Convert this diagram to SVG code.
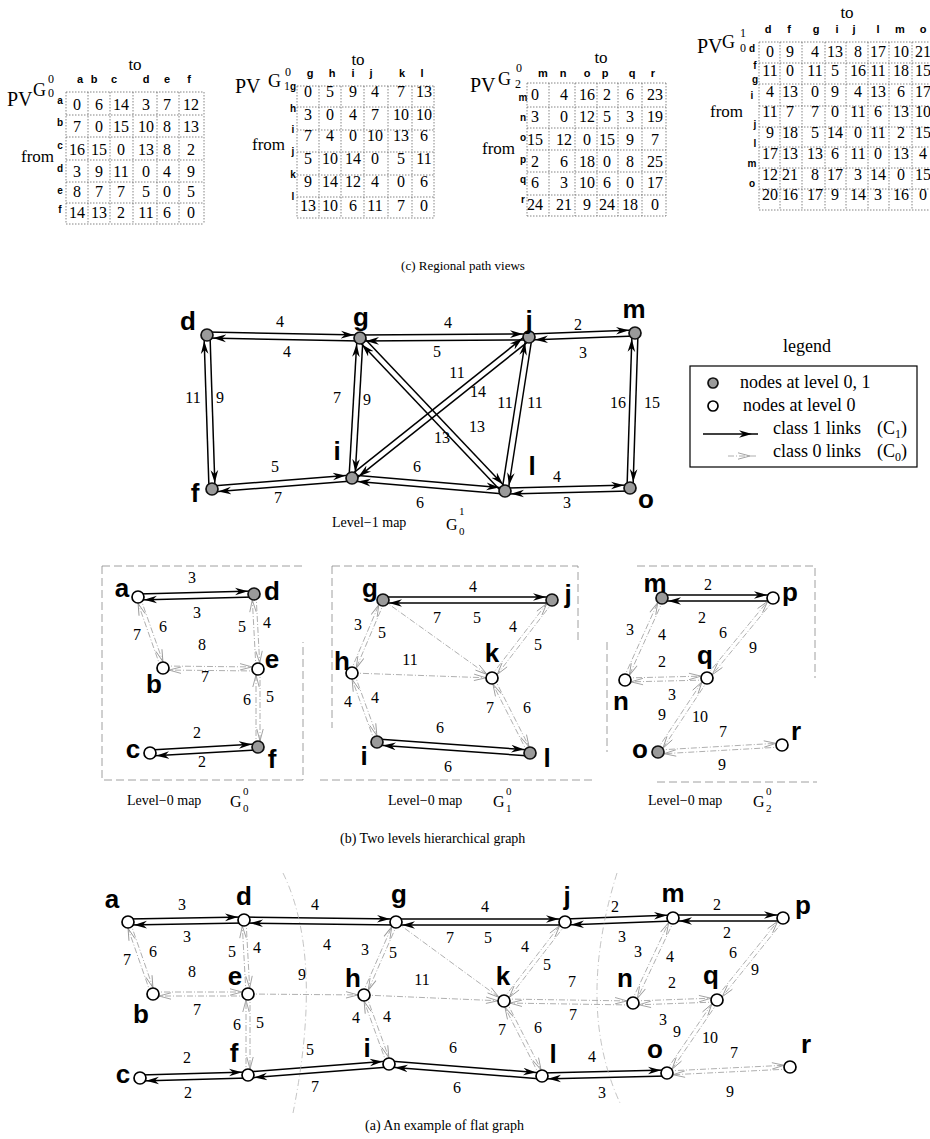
<svg xmlns="http://www.w3.org/2000/svg" width="930" height="1139" viewBox="0 0 930 1139">
<style>
.t{font-family:"Liberation Serif","Times New Roman",serif;fill:#000}
.num{font-family:"Liberation Serif","Times New Roman",serif;font-size:16px;text-anchor:middle}
.hd{font-family:"Liberation Sans",Arial,sans-serif;font-weight:bold;font-size:11px;text-anchor:middle}
.rl{font-family:"Liberation Sans",Arial,sans-serif;font-weight:bold;font-size:10px;text-anchor:middle}
.n{font-family:"Liberation Sans",Arial,sans-serif;font-weight:bold;font-size:26px;text-anchor:middle}
.el{font-family:"Liberation Serif","Times New Roman",serif;font-size:16px;text-anchor:middle}
.cap{font-family:"Liberation Serif","Times New Roman",serif;font-size:14px}
.grid{stroke:#666;stroke-width:0.8;stroke-dasharray:1.5 1.5;fill:none}
.c1{stroke:#000;stroke-width:1.5;fill:none;marker-end:url(#a1)}
.c0{stroke:#9a9a9a;stroke-width:0.8;stroke-dasharray:6 2 1 2;fill:none;marker-end:url(#a0)}
.on{fill:#fff;stroke:#000;stroke-width:1.7}
.gn{fill:#9a9a9a;stroke:#111;stroke-width:1.7}
.box{fill:none;stroke:#888;stroke-width:0.8;stroke-dasharray:8 4}
.bnd{fill:none;stroke:#aaa;stroke-width:0.7;stroke-dasharray:7 3 1 3}
</style>
<defs>
<marker id="a1" viewBox="0 0 20 10" refX="19" refY="5" markerWidth="20" markerHeight="10" orient="auto" markerUnits="userSpaceOnUse"><path d="M0,1.2 L13,5 L0,8.8 L4,5 z" fill="#000"/></marker>
<marker id="a0" viewBox="0 0 20 10" refX="19" refY="5" markerWidth="20" markerHeight="10" orient="auto" markerUnits="userSpaceOnUse"><path d="M1,1.8 L13,5 L1,8.2" fill="none" stroke="#9a9a9a" stroke-width="0.9"/></marker>
</defs>
<rect width="930" height="1139" fill="#fff"/>

<!-- (c) Regional path views -->
<g id="table-g00">
<text class="t" x="7" y="106" font-size="20">PV</text>
<text class="t" x="33" y="96" font-size="18">G</text>
<text class="t" x="48" y="83" font-size="12">0</text>
<text class="t" x="48" y="97" font-size="12">0</text>
<text class="t" x="135" y="70" font-size="17" text-anchor="middle">to</text>
<text class="t" x="21" y="162" font-size="17">from</text>
<text class="hd" y="83"><tspan x="80">a</tspan><tspan x="94">b</tspan><tspan x="114">c</tspan><tspan x="146">d</tspan><tspan x="167">e</tspan><tspan x="189">f</tspan></text>
<text class="rl" x="60"><tspan x="60" y="104">a</tspan><tspan x="60" y="126">b</tspan><tspan x="60" y="149">c</tspan><tspan x="60" y="172">d</tspan><tspan x="60" y="194">e</tspan><tspan x="60" y="213">f</tspan></text>
<path class="grid" d="M66,92H204M66,115H204M66,137H204M66,160H204M66,182H204M66,203H204M66,224H204M66,92V224M88,92V224M110,92V224M133,92V224M157,92V224M179,92V224M204,92V224"/>
<text class="num" y="110"><tspan x="77">0</tspan><tspan x="99">6</tspan><tspan x="121">14</tspan><tspan x="146">3</tspan><tspan x="167">7</tspan><tspan x="191">12</tspan></text>
<text class="num" y="132"><tspan x="77">7</tspan><tspan x="99">0</tspan><tspan x="121">15</tspan><tspan x="146">10</tspan><tspan x="167">8</tspan><tspan x="191">13</tspan></text>
<text class="num" y="155"><tspan x="77">16</tspan><tspan x="99">15</tspan><tspan x="121">0</tspan><tspan x="146">13</tspan><tspan x="167">8</tspan><tspan x="191">2</tspan></text>
<text class="num" y="177"><tspan x="77">3</tspan><tspan x="99">9</tspan><tspan x="121">11</tspan><tspan x="146">0</tspan><tspan x="167">4</tspan><tspan x="191">9</tspan></text>
<text class="num" y="197"><tspan x="77">8</tspan><tspan x="99">7</tspan><tspan x="121">7</tspan><tspan x="146">5</tspan><tspan x="167">0</tspan><tspan x="191">5</tspan></text>
<text class="num" y="218"><tspan x="77">14</tspan><tspan x="99">13</tspan><tspan x="121">2</tspan><tspan x="146">11</tspan><tspan x="167">6</tspan><tspan x="191">0</tspan></text>
</g>

<g id="table-g10">
<text class="t" x="235" y="93" font-size="20">PV</text>
<text class="t" x="268" y="87" font-size="18">G</text>
<text class="t" x="285" y="76" font-size="12">0</text>
<text class="t" x="284" y="90" font-size="12">1</text>
<text class="t" x="358" y="65" font-size="17" text-anchor="middle">to</text>
<text class="t" x="252" y="150" font-size="17">from</text>
<text class="hd" y="77"><tspan x="310">g</tspan><tspan x="332">h</tspan><tspan x="353">i</tspan><tspan x="371">j</tspan><tspan x="402">k</tspan><tspan x="422">l</tspan></text>
<text class="rl"><tspan x="293" y="90">g</tspan><tspan x="293" y="112">h</tspan><tspan x="293" y="133">i</tspan><tspan x="293" y="155">j</tspan><tspan x="293" y="178">k</tspan><tspan x="293" y="200">l</tspan></text>
<path class="grid" d="M297,86H434M297,107H434M297,130H434M297,152H434M297,175H434M297,197H434M297,218H434M297,86V218M319,86V218M341,86V218M364,86V218M388,86V218M412,86V218M434,86V218"/>
<text class="num" y="97"><tspan x="308">0</tspan><tspan x="330">5</tspan><tspan x="353">9</tspan><tspan x="375">4</tspan><tspan x="401">7</tspan><tspan x="424">13</tspan></text>
<text class="num" y="120"><tspan x="308">3</tspan><tspan x="330">0</tspan><tspan x="353">4</tspan><tspan x="375">7</tspan><tspan x="401">10</tspan><tspan x="424">10</tspan></text>
<text class="num" y="141"><tspan x="308">7</tspan><tspan x="330">4</tspan><tspan x="353">0</tspan><tspan x="375">10</tspan><tspan x="401">13</tspan><tspan x="424">6</tspan></text>
<text class="num" y="164"><tspan x="308">5</tspan><tspan x="330">10</tspan><tspan x="353">14</tspan><tspan x="375">0</tspan><tspan x="401">5</tspan><tspan x="424">11</tspan></text>
<text class="num" y="187"><tspan x="308">9</tspan><tspan x="330">14</tspan><tspan x="353">12</tspan><tspan x="375">4</tspan><tspan x="401">0</tspan><tspan x="424">6</tspan></text>
<text class="num" y="211"><tspan x="308">13</tspan><tspan x="330">10</tspan><tspan x="353">6</tspan><tspan x="375">11</tspan><tspan x="401">7</tspan><tspan x="424">0</tspan></text>
</g>

<g id="table-g20">
<text class="t" x="470" y="92" font-size="20">PV</text>
<text class="t" x="498" y="85" font-size="18">G</text>
<text class="t" x="516" y="72" font-size="12">0</text>
<text class="t" x="515" y="88" font-size="12">2</text>
<text class="t" x="601" y="63" font-size="17" text-anchor="middle">to</text>
<text class="t" x="482" y="154" font-size="17">from</text>
<text class="hd" y="77"><tspan x="543">m</tspan><tspan x="563">n</tspan><tspan x="587">o</tspan><tspan x="605">p</tspan><tspan x="632">q</tspan><tspan x="653">r</tspan></text>
<text class="rl"><tspan x="523" y="101">m</tspan><tspan x="523" y="121">n</tspan><tspan x="523" y="141">o</tspan><tspan x="523" y="163">p</tspan><tspan x="523" y="183">q</tspan><tspan x="523" y="203">r</tspan></text>
<path class="grid" d="M527,83H666M527,107H666M527,128H666M527,150H666M527,172H666M527,195H666M527,216H666M527,83V216M549,83V216M575,83V216M597,83V216M618,83V216M642,83V216M666,83V216"/>
<text class="num" y="100"><tspan x="535">0</tspan><tspan x="564">4</tspan><tspan x="587">16</tspan><tspan x="607">2</tspan><tspan x="630">6</tspan><tspan x="655">23</tspan></text>
<text class="num" y="122"><tspan x="535">3</tspan><tspan x="564">0</tspan><tspan x="587">12</tspan><tspan x="607">5</tspan><tspan x="630">3</tspan><tspan x="655">19</tspan></text>
<text class="num" y="145"><tspan x="535">15</tspan><tspan x="564">12</tspan><tspan x="587">0</tspan><tspan x="607">15</tspan><tspan x="630">9</tspan><tspan x="655">7</tspan></text>
<text class="num" y="167"><tspan x="535">2</tspan><tspan x="564">6</tspan><tspan x="587">18</tspan><tspan x="607">0</tspan><tspan x="630">8</tspan><tspan x="655">25</tspan></text>
<text class="num" y="188"><tspan x="535">6</tspan><tspan x="564">3</tspan><tspan x="587">10</tspan><tspan x="607">6</tspan><tspan x="630">0</tspan><tspan x="655">17</tspan></text>
<text class="num" y="210"><tspan x="535">24</tspan><tspan x="564">21</tspan><tspan x="587">9</tspan><tspan x="607">24</tspan><tspan x="630">18</tspan><tspan x="655">0</tspan></text>
</g>

<g id="table-g01">
<text class="t" x="697" y="53" font-size="20">PV</text>
<text class="t" x="722" y="48" font-size="18">G</text>
<text class="t" x="740" y="37" font-size="12">1</text>
<text class="t" x="740" y="52" font-size="12">0</text>
<text class="t" x="847" y="18" font-size="17" text-anchor="middle">to</text>
<text class="t" x="710" y="117" font-size="17">from</text>
<text class="hd" y="33"><tspan x="768">d</tspan><tspan x="789">f</tspan><tspan x="816">g</tspan><tspan x="837">i</tspan><tspan x="854">j</tspan><tspan x="878">l</tspan><tspan x="900">m</tspan><tspan x="923">o</tspan></text>
<text class="rl"><tspan x="752" y="52">d</tspan><tspan x="755" y="69">f</tspan><tspan x="755" y="83">g</tspan><tspan x="752" y="99">i</tspan><tspan x="755" y="128">j</tspan><tspan x="755" y="147">l</tspan><tspan x="752" y="167">m</tspan><tspan x="752" y="187">o</tspan></text>
<path class="grid" d="M759,42H930M759,63H930M759,84H930M759,106H930M759,127H930M759,147H930M759,168H930M759,189H930M759,210H930M759,42V210M780,42V210M802,42V210M825,42V210M846,42V210M868,42V210M889,42V210M912,42V210"/>
<text class="num" y="57"><tspan x="770">0</tspan><tspan x="790">9</tspan><tspan x="815">4</tspan><tspan x="835">13</tspan><tspan x="858">8</tspan><tspan x="878">17</tspan><tspan x="901">10</tspan><tspan x="923">21</tspan></text>
<text class="num" y="76"><tspan x="770">11</tspan><tspan x="790">0</tspan><tspan x="815">11</tspan><tspan x="835">5</tspan><tspan x="858">16</tspan><tspan x="878">11</tspan><tspan x="901">18</tspan><tspan x="923">15</tspan></text>
<text class="num" y="97"><tspan x="770">4</tspan><tspan x="790">13</tspan><tspan x="815">0</tspan><tspan x="835">9</tspan><tspan x="858">4</tspan><tspan x="878">13</tspan><tspan x="901">6</tspan><tspan x="923">17</tspan></text>
<text class="num" y="117"><tspan x="770">11</tspan><tspan x="790">7</tspan><tspan x="815">7</tspan><tspan x="835">0</tspan><tspan x="858">11</tspan><tspan x="878">6</tspan><tspan x="901">13</tspan><tspan x="923">10</tspan></text>
<text class="num" y="138"><tspan x="770">9</tspan><tspan x="790">18</tspan><tspan x="815">5</tspan><tspan x="835">14</tspan><tspan x="858">0</tspan><tspan x="878">11</tspan><tspan x="901">2</tspan><tspan x="923">15</tspan></text>
<text class="num" y="159"><tspan x="770">17</tspan><tspan x="790">13</tspan><tspan x="815">13</tspan><tspan x="835">6</tspan><tspan x="858">11</tspan><tspan x="878">0</tspan><tspan x="901">13</tspan><tspan x="923">4</tspan></text>
<text class="num" y="180"><tspan x="770">12</tspan><tspan x="790">21</tspan><tspan x="815">8</tspan><tspan x="835">17</tspan><tspan x="858">3</tspan><tspan x="878">14</tspan><tspan x="901">0</tspan><tspan x="923">15</tspan></text>
<text class="num" y="200"><tspan x="770">20</tspan><tspan x="790">16</tspan><tspan x="815">17</tspan><tspan x="835">9</tspan><tspan x="858">14</tspan><tspan x="878">3</tspan><tspan x="901">16</tspan><tspan x="923">0</tspan></text>
</g>

<text class="t" x="463" y="270" font-size="13" text-anchor="middle">(c) Regional path views</text>

<!-- connectors -->
<g id="connectors">
<g id="level1-links">
<line class="c1" x1="207" y1="332" x2="360" y2="335"/>
<line class="c1" x1="360" y1="341" x2="207" y2="338"/>
<line class="c1" x1="360" y1="335" x2="529" y2="334"/>
<line class="c1" x1="529" y1="340" x2="360" y2="341"/>
<line class="c1" x1="529" y1="334" x2="635" y2="330"/>
<line class="c1" x1="635" y1="336" x2="529" y2="340"/>
<line class="c1" x1="210" y1="335" x2="215" y2="489"/>
<line class="c1" x1="209" y1="489" x2="204" y2="335"/>
<line class="c1" x1="363" y1="338" x2="355" y2="478"/>
<line class="c1" x1="349" y1="478" x2="357" y2="338"/>
<line class="c1" x1="530.9" y1="339.3" x2="353.9" y2="480.3"/>
<line class="c1" x1="350.1" y1="475.6" x2="527.1" y2="334.6"/>
<line class="c1" x1="362.2" y1="335.9" x2="507.2" y2="488.9"/>
<line class="c1" x1="502.8" y1="493.1" x2="357.8" y2="340.1"/>
<line class="c1" x1="532" y1="337.5" x2="508" y2="491.5"/>
<line class="c1" x1="502" y1="490.5" x2="526" y2="336.5"/>
<line class="c1" x1="638" y1="333" x2="633" y2="488"/>
<line class="c1" x1="627" y1="488" x2="632" y2="333"/>
<line class="c1" x1="211.8" y1="486" x2="351.8" y2="475"/>
<line class="c1" x1="352.2" y1="481" x2="212.2" y2="492"/>
<line class="c1" x1="352.3" y1="475" x2="505.3" y2="488"/>
<line class="c1" x1="504.7" y1="494" x2="351.7" y2="481"/>
<line class="c1" x1="505" y1="488" x2="630" y2="485"/>
<line class="c1" x1="630" y1="491" x2="505" y2="494"/>
</g>
<g id="level0-links">
<line class="c1" x1="138" y1="594" x2="254" y2="591"/>
<line class="c1" x1="254" y1="597" x2="138" y2="600"/>
<line class="c0" x1="139.9" y1="596.3" x2="164.9" y2="667.3"/>
<line class="c0" x1="161.1" y1="668.7" x2="136.1" y2="597.7"/>
<line class="c0" x1="163" y1="666" x2="258" y2="667"/>
<line class="c0" x1="258" y1="671" x2="163" y2="670"/>
<line class="c0" x1="256" y1="594" x2="260" y2="669"/>
<line class="c0" x1="256" y1="669" x2="252" y2="594"/>
<line class="c0" x1="260" y1="669" x2="260" y2="747"/>
<line class="c0" x1="256" y1="747" x2="256" y2="669"/>
<line class="c1" x1="149.8" y1="750" x2="257.8" y2="744"/>
<line class="c1" x1="258.2" y1="750" x2="150.2" y2="756"/>

<line class="c1" x1="383" y1="597" x2="552" y2="597"/>
<line class="c1" x1="552" y1="603" x2="383" y2="603"/>
<line class="c0" x1="384.8" y1="600.8" x2="353.8" y2="673.8"/>
<line class="c0" x1="350.2" y1="672.2" x2="381.2" y2="599.2"/>
<line class="c0" x1="383" y1="600" x2="492" y2="678"/>
<line class="c0" x1="553.6" y1="601.2" x2="493.6" y2="679.2"/>
<line class="c0" x1="490.4" y1="676.8" x2="550.4" y2="598.8"/>
<line class="c0" x1="352" y1="673" x2="492" y2="678"/>
<line class="c0" x1="353.9" y1="672.3" x2="378.9" y2="741.3"/>
<line class="c0" x1="375.1" y1="742.7" x2="350.1" y2="673.7"/>
<line class="c0" x1="493.8" y1="677.1" x2="531.8" y2="752.1"/>
<line class="c0" x1="528.2" y1="753.9" x2="490.2" y2="678.9"/>
<line class="c1" x1="377.2" y1="739" x2="530.2" y2="750"/>
<line class="c1" x1="529.8" y1="756" x2="376.8" y2="745"/>

<line class="c1" x1="662" y1="595" x2="773" y2="595"/>
<line class="c1" x1="773" y1="601" x2="662" y2="601"/>
<line class="c0" x1="663.8" y1="598.8" x2="626.8" y2="680.8"/>
<line class="c0" x1="623.2" y1="679.2" x2="660.2" y2="597.2"/>
<line class="c0" x1="774.5" y1="599.3" x2="708.5" y2="679.3"/>
<line class="c0" x1="705.5" y1="676.7" x2="771.5" y2="596.7"/>
<line class="c0" x1="625" y1="678" x2="707" y2="676"/>
<line class="c0" x1="707" y1="680" x2="625" y2="682"/>
<line class="c0" x1="708.7" y1="679.1" x2="659.7" y2="753.1"/>
<line class="c0" x1="656.3" y1="750.9" x2="705.3" y2="676.9"/>
<line class="c0" x1="657.9" y1="750" x2="781.9" y2="743"/>
<line class="c0" x1="782.1" y1="747" x2="658.1" y2="754"/>
</g>
<g id="flat-links">
<line class="c1" x1="128" y1="919" x2="244" y2="917"/>
<line class="c1" x1="244" y1="923" x2="128" y2="925"/>
<line class="c1" x1="244" y1="917" x2="396" y2="919"/>
<line class="c1" x1="396" y1="925" x2="244" y2="923"/>
<line class="c1" x1="396" y1="919" x2="565" y2="919"/>
<line class="c1" x1="565" y1="925" x2="396" y2="925"/>
<line class="c1" x1="565" y1="919" x2="673" y2="915"/>
<line class="c1" x1="673" y1="921" x2="565" y2="925"/>
<line class="c1" x1="673" y1="915" x2="783" y2="915"/>
<line class="c1" x1="783" y1="921" x2="673" y2="921"/>
<line class="c1" x1="140" y1="1075" x2="248" y2="1072"/>
<line class="c1" x1="248" y1="1078" x2="140" y2="1081"/>
<line class="c1" x1="247.8" y1="1072" x2="388.8" y2="1061"/>
<line class="c1" x1="389.2" y1="1067" x2="248.2" y2="1078"/>
<line class="c1" x1="389.2" y1="1061" x2="542.2" y2="1073"/>
<line class="c1" x1="541.8" y1="1079" x2="388.8" y2="1067"/>
<line class="c1" x1="542" y1="1073" x2="667" y2="1070"/>
<line class="c1" x1="667" y1="1076" x2="542" y2="1079"/>
<line class="c0" x1="129.9" y1="921.3" x2="154.9" y2="993.3"/>
<line class="c0" x1="151.1" y1="994.7" x2="126.1" y2="922.7"/>
<line class="c0" x1="153" y1="992" x2="248" y2="992"/>
<line class="c0" x1="248" y1="996" x2="153" y2="996"/>
<line class="c0" x1="246" y1="920" x2="250" y2="994"/>
<line class="c0" x1="246" y1="994" x2="242" y2="920"/>
<line class="c0" x1="248" y1="994" x2="364" y2="995"/>
<line class="c0" x1="250" y1="994" x2="250" y2="1075"/>
<line class="c0" x1="246" y1="1075" x2="246" y2="994"/>
<line class="c0" x1="397.8" y1="922.8" x2="365.8" y2="995.8"/>
<line class="c0" x1="362.2" y1="994.2" x2="394.2" y2="921.2"/>
<line class="c0" x1="396" y1="922" x2="504" y2="1001"/>
<line class="c0" x1="364" y1="995" x2="504" y2="1001"/>
<line class="c0" x1="365.9" y1="994.3" x2="390.9" y2="1063.3"/>
<line class="c0" x1="387.1" y1="1064.7" x2="362.1" y2="995.7"/>
<line class="c0" x1="566.6" y1="923.2" x2="505.6" y2="1002.2"/>
<line class="c0" x1="502.4" y1="999.8" x2="563.4" y2="920.8"/>
<line class="c0" x1="505.8" y1="1000.1" x2="543.8" y2="1075.1"/>
<line class="c0" x1="540.2" y1="1076.9" x2="502.2" y2="1001.9"/>
<line class="c0" x1="504" y1="999" x2="633" y2="1001"/>
<line class="c0" x1="633" y1="1005" x2="504" y2="1003"/>
<line class="c0" x1="674.8" y1="918.9" x2="634.8" y2="1003.9"/>
<line class="c0" x1="631.2" y1="1002.1" x2="671.2" y2="917.1"/>
<line class="c0" x1="633" y1="1001" x2="717" y2="998"/>
<line class="c0" x1="717" y1="1002" x2="633" y2="1005"/>
<line class="c0" x1="784.6" y1="919.3" x2="718.6" y2="1001.3"/>
<line class="c0" x1="715.4" y1="998.7" x2="781.4" y2="916.7"/>
<line class="c0" x1="718.7" y1="1001.1" x2="668.7" y2="1074.1"/>
<line class="c0" x1="665.3" y1="1071.9" x2="715.3" y2="998.9"/>
<line class="c0" x1="667" y1="1071" x2="790" y2="1065"/>
<line class="c0" x1="790" y1="1069" x2="667" y2="1075"/>
</g>
</g>

<!-- edge labels -->
<g id="edge-labels" class="el">
<text x="280" y="327">4</text><text x="287" y="357">4</text><text x="448" y="328">4</text><text x="437" y="357">5</text>
<text x="578" y="330">2</text><text x="583" y="358">3</text>
<text x="193" y="403">11</text><text x="220" y="403">9</text><text x="337" y="403">7</text><text x="367" y="405">9</text>
<text x="457" y="378">11</text><text x="478" y="397">14</text><text x="442" y="443">13</text><text x="477" y="432">13</text>
<text x="505" y="408">11</text><text x="535" y="408">11</text><text x="618" y="408">16</text><text x="652" y="408">15</text>
<text x="275" y="472">5</text><text x="278" y="503">7</text><text x="417" y="472">6</text><text x="420" y="508">6</text>
<text x="557" y="482">4</text><text x="567" y="508">3</text>

<text x="192" y="583">3</text><text x="197" y="618">3</text><text x="137" y="640">7</text><text x="163" y="632">6</text>
<text x="202" y="650">8</text><text x="205" y="682">7</text><text x="242" y="632">5</text><text x="267" y="628">4</text>
<text x="247" y="705">6</text><text x="270" y="702">5</text><text x="197" y="738">2</text><text x="202" y="767">2</text>

<text x="473" y="592">4</text><text x="477" y="623">5</text><text x="437" y="623">7</text><text x="513" y="632">4</text>
<text x="538" y="650">5</text><text x="358" y="630">3</text><text x="382" y="638">5</text><text x="410" y="665">11</text>
<text x="348" y="707">4</text><text x="375" y="703">4</text><text x="490" y="713">7</text><text x="527" y="713">6</text>
<text x="440" y="733">6</text><text x="448" y="772">6</text>

<text x="708" y="590">2</text><text x="702" y="623">2</text><text x="630" y="635">3</text><text x="662" y="640">4</text>
<text x="723" y="638">6</text><text x="753" y="653">9</text><text x="662" y="667">2</text><text x="672" y="700">3</text>
<text x="662" y="720">9</text><text x="700" y="722">10</text><text x="723" y="737">7</text><text x="722" y="770">9</text>

<text x="182" y="910">3</text><text x="187" y="942">3</text><text x="315" y="910">4</text><text x="327" y="950">4</text>
<text x="485" y="912">4</text><text x="488" y="943">5</text><text x="450" y="943">7</text>
<text x="127" y="965">7</text><text x="153" y="957">6</text><text x="232" y="957">5</text><text x="257" y="953">4</text>
<text x="192" y="977">8</text><text x="197" y="1015">7</text><text x="302" y="980">9</text>
<text x="365" y="955">3</text><text x="393" y="958">5</text><text x="422" y="985">11</text>
<text x="237" y="1030">6</text><text x="260" y="1028">5</text><text x="356" y="1023">4</text><text x="387" y="1022">4</text>
<text x="310" y="1055">5</text><text x="315" y="1092">7</text><text x="187" y="1063">2</text><text x="188" y="1098">2</text>
<text x="453" y="1053">6</text><text x="457" y="1093">6</text><text x="502" y="1035">7</text><text x="538" y="1033">6</text>
<text x="525" y="952">4</text><text x="547" y="970">5</text><text x="615" y="912">2</text><text x="622" y="942">3</text>
<text x="638" y="957">3</text><text x="670" y="962">4</text><text x="717" y="910">2</text><text x="727" y="938">2</text>
<text x="733" y="958">6</text><text x="755" y="975">9</text><text x="572" y="987">7</text><text x="573" y="1020">7</text>
<text x="672" y="988">2</text><text x="663" y="1025">3</text><text x="677" y="1037">9</text><text x="710" y="1043">10</text>
<text x="592" y="1062">4</text><text x="602" y="1098">3</text><text x="734" y="1058">7</text><text x="730" y="1097">9</text>
</g>

<!-- Level-1 map nodes -->
<g id="l1-d"><circle class="gn" cx="207" cy="335" r="6"/><text class="n" x="188" y="330">d</text></g>
<g id="l1-g"><circle class="gn" cx="360" cy="338" r="6"/><text class="n" x="361" y="326">g</text></g>
<g id="l1-j"><circle class="gn" cx="529" cy="337" r="6"/><text class="n" x="529" y="329">j</text></g>
<g id="l1-m"><circle class="gn" cx="635" cy="333" r="6"/><text class="n" x="634" y="318">m</text></g>
<g id="l1-f"><circle class="gn" cx="212" cy="489" r="6"/><text class="n" x="195" y="502">f</text></g>
<g id="l1-i"><circle class="gn" cx="352" cy="478" r="6"/><text class="n" x="337" y="460">i</text></g>
<g id="l1-l"><circle class="gn" cx="505" cy="491" r="6"/><text class="n" x="532" y="475">l</text></g>
<g id="l1-o"><circle class="gn" cx="630" cy="488" r="6"/><text class="n" x="646" y="508">o</text></g>
<g id="l1-caption">
<text class="cap" x="332" y="527">Level−1 map</text>
<text class="t" x="446" y="530" font-size="16">G</text>
<text class="t" x="459" y="515" font-size="11">1</text>
<text class="t" x="459" y="535" font-size="11">0</text>
</g>

<!-- legend -->
<g id="legend">
<text class="t" x="807" y="352" font-size="18" text-anchor="middle">legend</text>
<rect x="690" y="366" width="227" height="101" fill="none" stroke="#000" stroke-width="1.2"/>
<circle class="gn" cx="713" cy="383" r="5"/>
<text class="t" x="740" y="388" font-size="18">nodes at level 0, 1</text>
<circle class="on" cx="713" cy="406" r="5"/>
<text class="t" x="743" y="411" font-size="18">nodes at level 0</text>
<line class="c1" x1="703" y1="434" x2="758" y2="434"/>
<text class="t" x="773" y="434" font-size="18">class 1 links</text>
<text class="t" x="877" y="434" font-size="18">(C<tspan font-size="12" dy="4">1</tspan><tspan dy="-4">)</tspan></text>
<line class="c0" x1="728" y1="456" x2="756" y2="456"/>
<text class="t" x="773" y="457" font-size="18">class 0 links</text>
<text class="t" x="877" y="457" font-size="18">(C<tspan font-size="12" dy="4">0</tspan><tspan dy="-4">)</tspan></text>
</g>

<!-- Level-0 boxes -->
<g id="level0-frames">
<path class="box" d="M102,566H303M102,566V780H303V642"/>
<path class="box" d="M332,566H578V642M332,566V728M320,780H595"/>
<path class="box" d="M637,566H815V678M607,642V752M657,782H817"/>
</g>

<g id="l0-a"><circle class="on" cx="138" cy="597" r="6"/><text class="n" x="122" y="597">a</text></g>
<g id="l0-d"><circle class="gn" cx="254" cy="594" r="6"/><text class="n" x="272" y="600">d</text></g>
<g id="l0-b"><circle class="on" cx="163" cy="668" r="6"/><text class="n" x="154" y="693">b</text></g>
<g id="l0-e"><circle class="on" cx="258" cy="669" r="6"/><text class="n" x="272" y="668">e</text></g>
<g id="l0-c"><circle class="on" cx="150" cy="753" r="6"/><text class="n" x="133" y="758">c</text></g>
<g id="l0-f"><circle class="gn" cx="258" cy="747" r="6"/><text class="n" x="272" y="768">f</text></g>

<g id="l0-g"><circle class="gn" cx="383" cy="600" r="6"/><text class="n" x="370" y="597">g</text></g>
<g id="l0-j"><circle class="gn" cx="552" cy="600" r="6"/><text class="n" x="568" y="603">j</text></g>
<g id="l0-h"><circle class="on" cx="352" cy="673" r="6"/><text class="n" x="342" y="670">h</text></g>
<g id="l0-k"><circle class="on" cx="492" cy="678" r="6"/><text class="n" x="492" y="662">k</text></g>
<g id="l0-i"><circle class="gn" cx="377" cy="742" r="6"/><text class="n" x="364" y="765">i</text></g>
<g id="l0-l"><circle class="gn" cx="530" cy="753" r="6"/><text class="n" x="547" y="767">l</text></g>

<g id="l0-m"><circle class="gn" cx="662" cy="598" r="6"/><text class="n" x="655" y="592">m</text></g>
<g id="l0-p"><circle class="on" cx="773" cy="598" r="6"/><text class="n" x="790" y="601">p</text></g>
<g id="l0-n"><circle class="on" cx="625" cy="680" r="6"/><text class="n" x="621" y="710">n</text></g>
<g id="l0-q"><circle class="on" cx="707" cy="678" r="6"/><text class="n" x="705" y="664">q</text></g>
<g id="l0-o"><circle class="gn" cx="658" cy="752" r="6"/><text class="n" x="640" y="758">o</text></g>
<g id="l0-r"><circle class="on" cx="782" cy="745" r="6"/><text class="n" x="796" y="740">r</text></g>

<g id="l0-captions">
<text class="cap" x="127" y="805">Level−0 map</text>
<text class="t" x="230" y="807" font-size="16">G</text><text class="t" x="243" y="795" font-size="11">0</text><text class="t" x="243" y="812" font-size="11">0</text>
<text class="cap" x="388" y="805">Level−0 map</text>
<text class="t" x="493" y="807" font-size="16">G</text><text class="t" x="506" y="795" font-size="11">0</text><text class="t" x="506" y="812" font-size="11">1</text>
<text class="cap" x="648" y="805">Level−0 map</text>
<text class="t" x="753" y="807" font-size="16">G</text><text class="t" x="766" y="795" font-size="11">0</text><text class="t" x="766" y="812" font-size="11">2</text>
</g>
<text class="t" x="340" y="843" font-size="14">(b) Two levels hierarchical graph</text>

<!-- flat graph -->
<g id="boundaries">
<path class="bnd" d="M283,873 Q324,957 293,1113"/>
<path class="bnd" d="M617,873 Q575.5,1006 620,1103"/>
</g>
<g id="fl-a"><circle class="on" cx="128" cy="922" r="6"/><text class="n" x="112" y="908">a</text></g>
<g id="fl-d"><circle class="on" cx="244" cy="920" r="6"/><text class="n" x="244" y="905">d</text></g>
<g id="fl-g"><circle class="on" cx="396" cy="922" r="6"/><text class="n" x="399" y="903">g</text></g>
<g id="fl-j"><circle class="on" cx="565" cy="922" r="6"/><text class="n" x="567" y="905">j</text></g>
<g id="fl-m"><circle class="on" cx="673" cy="918" r="6"/><text class="n" x="673" y="902">m</text></g>
<g id="fl-p"><circle class="on" cx="783" cy="918" r="6"/><text class="n" x="803" y="914">p</text></g>
<g id="fl-b"><circle class="on" cx="153" cy="994" r="6"/><text class="n" x="141" y="1023">b</text></g>
<g id="fl-e"><circle class="on" cx="248" cy="994" r="6"/><text class="n" x="235" y="985">e</text></g>
<g id="fl-h"><circle class="on" cx="364" cy="995" r="6"/><text class="n" x="353" y="987">h</text></g>
<g id="fl-k"><circle class="on" cx="504" cy="1001" r="6"/><text class="n" x="503" y="985">k</text></g>
<g id="fl-n"><circle class="on" cx="633" cy="1003" r="6"/><text class="n" x="625" y="987">n</text></g>
<g id="fl-q"><circle class="on" cx="717" cy="1000" r="6"/><text class="n" x="711" y="984">q</text></g>
<g id="fl-c"><circle class="on" cx="140" cy="1078" r="6"/><text class="n" x="123" y="1083">c</text></g>
<g id="fl-f"><circle class="on" cx="248" cy="1075" r="6"/><text class="n" x="234" y="1062">f</text></g>
<g id="fl-i"><circle class="on" cx="389" cy="1064" r="6"/><text class="n" x="367" y="1057">i</text></g>
<g id="fl-l"><circle class="on" cx="542" cy="1076" r="6"/><text class="n" x="553" y="1063">l</text></g>
<g id="fl-o"><circle class="on" cx="667" cy="1073" r="6"/><text class="n" x="655" y="1058">o</text></g>
<g id="fl-r"><circle class="on" cx="790" cy="1067" r="6"/><text class="n" x="806" y="1053">r</text></g>
<text class="t" x="365" y="1130" font-size="14">(a) An example of flat graph</text>
</svg>
